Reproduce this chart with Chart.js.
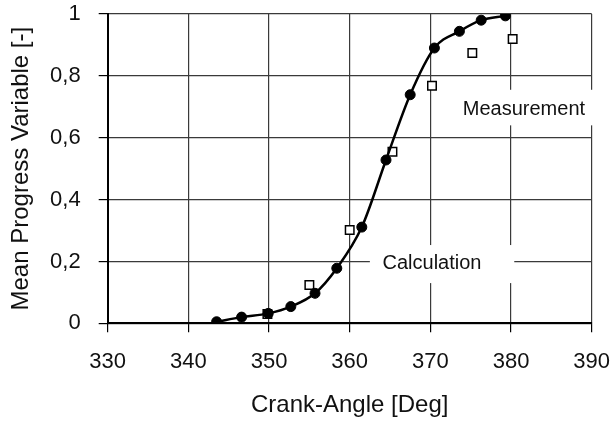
<!DOCTYPE html>
<html>
<head>
<meta charset="utf-8">
<script src="https://cdn.jsdelivr.net/npm/chart.js@4"></script>
<style>
  body { margin: 0; background: #fff; }
  canvas { display: block; }
</style>
</head>
<body>
<canvas id="grafik" width="614" height="425"></canvas>
<script>
// calculation (filled circles + curve)
const calcAngle = [343.5, 346.6, 349.9, 352.7, 355.7, 358.4, 361.5, 364.5, 367.5, 370.5, 373.6, 376.3, 379.3];
const calcValue = [0.005, 0.02, 0.032, 0.054, 0.097, 0.178, 0.311, 0.528, 0.739, 0.89, 0.944, 0.98, 0.994];

// measurement (open squares)
const measAngle = [349.8, 355.0, 360.0, 365.3, 370.2, 375.2, 380.2];
const measValue = [0.03, 0.124, 0.302, 0.555, 0.768, 0.874, 0.919];

const xTicks = ['330', '340', '350', '360', '370', '380', '390'];
const yTicks = ['0', '0,2', '0,4', '0,6', '0,8', '1'];

const fontFam = "'Liberation Sans', Arial, sans-serif";

// text labels inside the plot, with a white box behind them
const labelBoxes = [
  { text: 'Measurement', x: 381.6, y: 0.69, x0: 373.0, x1: 390.6, y0: 0.64, y1: 0.755 },
  { text: 'Calculation', x: 370.2, y: 0.194, x0: 362.5, x1: 380.4, y0: 0.13, y1: 0.253 }
];

const labelPlugin = {
  id: 'labelPlugin',
  beforeDatasetsDraw(chart) {
    const ctx = chart.ctx;
    const sx = chart.scales.x, sy = chart.scales.y;
    ctx.save();
    labelBoxes.forEach(b => {
      const l = sx.getPixelForValue(b.x0), r = sx.getPixelForValue(b.x1);
      const t = sy.getPixelForValue(b.y1), bt = sy.getPixelForValue(b.y0);
      ctx.fillStyle = '#fff';
      ctx.fillRect(l, t, r - l, bt - t);
      ctx.fillStyle = '#111';
      ctx.font = '20px ' + fontFam;
      ctx.textAlign = 'center';
      ctx.textBaseline = 'middle';
      ctx.fillText(b.text, sx.getPixelForValue(b.x), sy.getPixelForValue(b.y));
    });
    ctx.restore();
  }
};

const calcData = calcAngle.map((a, i) => ({ x: a, y: calcValue[i] }));
const measData = measAngle.map((a, i) => ({ x: a, y: measValue[i] }));

new Chart(document.getElementById('grafik'), {
  type: 'scatter',
  data: {
    datasets: [
      {
        label: 'Calculation',
        data: calcData,
        showLine: true,
        borderColor: '#000',
        borderWidth: 2.5,
        cubicInterpolationMode: 'monotone',
        pointStyle: 'circle',
        pointRadius: 5,
        pointBackgroundColor: '#000',
        pointBorderColor: '#000',
        pointBorderWidth: 1
      },
      {
        label: 'Measurement',
        data: measData,
        showLine: false,
        pointStyle: 'rect',
        pointRadius: 6,
        pointBackgroundColor: '#fff',
        pointBorderColor: '#000',
        pointBorderWidth: 1.5
      }
    ]
  },
  options: {
    responsive: false,
    animation: false,
    layout: { padding: { top: 14, right: 22.3, left: 0, bottom: 0 } },
    plugins: {
      legend: { display: false },
      tooltip: { enabled: false }
    },
    scales: {
      x: {
        type: 'linear',
        min: 330,
        max: 390,
        afterFit: s => { s.height = 101.7; s.paddingLeft = 0; s.paddingRight = 0; },
        ticks: {
          stepSize: 10,
          padding: 16,
          color: '#111',
          font: { family: fontFam, size: 22 },
          callback: (v, i) => xTicks[i]
        },
        grid: { color: '#3a3a3a', lineWidth: 1.2, tickLength: 9, tickColor: '#000' },
        border: { color: '#000', width: 2 },
        title: {
          display: true,
          text: 'Crank-Angle [Deg]',
          color: '#111',
          font: { family: fontFam, size: 24 },
          padding: { top: 0, bottom: 5 }
        }
      },
      y: {
        min: 0,
        max: 1,
        afterFit: s => { s.width = 107.7; s.paddingTop = 0; s.paddingBottom = 0; },
        ticks: {
          stepSize: 0.2,
          padding: 18,
          color: '#111',
          font: { family: fontFam, size: 22 },
          callback: (v, i) => yTicks[i]
        },
        grid: { color: '#3a3a3a', lineWidth: 1.2, tickLength: 9, tickColor: '#000' },
        border: { color: '#000', width: 2 },
        title: {
          display: true,
          text: 'Mean Progress Variable [-]',
          color: '#111',
          font: { family: fontFam, size: 24 },
          padding: { top: 7, bottom: 0 }
        }
      }
    }
  },
  plugins: [labelPlugin]
});
</script>
</body>
</html>
